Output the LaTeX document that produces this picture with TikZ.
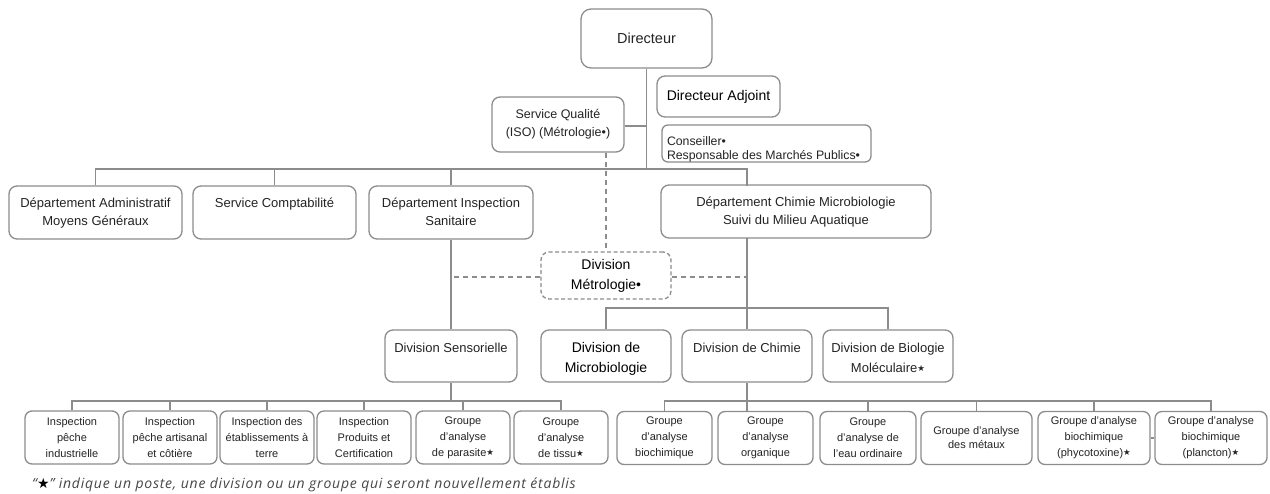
\documentclass[tikz,border=0pt]{standalone}
\usepackage{fontspec}
\setmainfont{Liberation Sans}
\newfontfamily\dejavu{DejaVu Sans}
\newfontfamily\notefont[LetterSpace=5.5]{Open Sans}
\usetikzlibrary{calc}
\definecolor{edge}{RGB}{140,140,140}
\definecolor{ink}{RGB}{35,35,35}
\definecolor{note}{RGB}{70,70,70}
\newcommand\fs[2]{\fontsize{#1}{#2}\selectfont}
% small star marking posts to be created
\newcommand\etoile{{\dejavu\fontsize{8.5}{8.5}\selectfont\raisebox{1pt}{★}}}
% box content hung from the top: width, height, first baseline, text
\newcommand\topbox[4]{\parbox[c][#2][t]{#1}{\centering\rule{0pt}{#3}#4}}
\begin{document}
\begin{tikzpicture}[x=1pt,y=-1pt,
  box/.style={draw=edge, line width=1.3pt, rounded corners=8pt, inner sep=0pt, text=ink},
  grp/.style={box, rounded corners=7pt, minimum width=#1, minimum height=53pt,
              align=center, font=\fs{11}{16}},
  conn/.style={draw=edge, line width=1.8pt},
  dashconn/.style={draw=edge, line width=1.5pt, dash pattern=on 5pt off 4pt},
]
\useasboundingbox (0,0) rectangle (1270,493);

% ---- top management
\node[box, rounded corners=10pt, minimum width=131pt, minimum height=59pt, font=\fs{14.5}{17}]
  (dir) at (646.5,38.5) {Directeur};
\node[box, minimum width=123pt, minimum height=41pt, font=\fs{14}{17}, text=black]
  (adj) at (718.5,96.5) {Directeur Adjoint};
\node[box, minimum width=132pt, minimum height=55pt, align=center, font=\fs{12.5}{18}]
  (qual) at (558,124.5) {Service Qualité\\(ISO) (Métrologie•)};
\node[box, rounded corners=6pt, font=\fs{12.3}{14.3}]
  (cons) at (766.5,143.5) {\parbox[c][37pt][t]{209pt}{\raggedright\hspace*{5pt}\rule{0pt}{20pt}Conseiller•\\\hspace*{5pt}Responsable des Marchés Publics•}};

% ---- departments
\node[box, font=\fs{13}{18}] (admin) at (95.5,212.5)
  {\topbox{173pt}{53pt}{21pt}{Département Administratif\\Moyens Généraux}};
\node[box, font=\fs{13}{18}] (compta) at (274.5,212.5)
  {\topbox{163pt}{53pt}{21pt}{Service Comptabilité}};
\node[box, font=\fs{13}{18}] (insp) at (451,212.5)
  {\topbox{164pt}{53pt}{21pt}{Département Inspection\\Sanitaire}};
\node[box, font=\fs{13}{18}] (chimie) at (796,211.5)
  {\topbox{270pt}{53pt}{21pt}{Département Chimie Microbiologie\\Suivi du Milieu Aquatique}};

% ---- divisions
\node[box, dashed, dash pattern=on 4pt off 2.5pt, minimum width=130pt, minimum height=47pt,
      align=center, font=\fs{14}{20}, text=black]
  (metro) at (606,275.5) {Division\\Métrologie•};
\node[box, font=\fs{13}{20}] (sens) at (451,356)
  {\topbox{132pt}{52pt}{22pt}{Division Sensorielle}};
\node[box, font=\fs{14}{20}, text=black] (micro) at (606,356)
  {\topbox{130pt}{52pt}{22pt}{Division de\\Microbiologie}};
\node[box, font=\fs{13}{20}] (chim) at (747,356)
  {\topbox{130pt}{52pt}{22pt}{Division de Chimie}};
\node[box, font=\fs{13}{20}] (bio) at (888,356)
  {\topbox{130pt}{52pt}{22pt}{Division de Biologie\\Moléculaire\etoile}};

% ---- groups
\node[grp=94pt]  (b1)  at (72,437.5)     {Inspection\\pêche\\industrielle};
\node[grp=94pt]  (b2)  at (170,437.5)    {Inspection\\pêche artisanal\\et côtière};
\node[grp=94pt]  (b3)  at (267,437.5)    {Inspection des\\établissements à\\terre};
\node[grp=94pt]  (b4)  at (364,437.5)    {Inspection\\Produits et\\Certification};
\node[grp=94pt]  (b5)  at (463,437.5)    {Groupe\\d’analyse\\de parasite\etoile};
\node[grp=94pt]  (b6)  at (561,437.5)    {Groupe\\d’analyse\\de tissu\etoile};
\node[grp=95pt]  (b7)  at (664.5,438)    {Groupe\\d’analyse\\biochimique};
\node[grp=95pt]  (b8)  at (765.5,438)    {Groupe\\d’analyse\\organique};
\node[grp=96pt]  (b9)  at (868,438)      {Groupe\\d’analyse de\\l’eau ordinaire};
\node[grp=111pt, font=\fs{11}{14}] (b10) at (976.5,438) {Groupe d’analyse\\des métaux};
\node[grp=112pt] (b11) at (1094,438)     {Groupe d’analyse\\biochimique\\(phycotoxine)\etoile};
\node[grp=112pt] (b12) at (1211,438)     {Groupe d’analyse\\biochimique\\(plancton)\etoile};

% ---- bus levels and drop points
\coordinate (bus) at (0,169);
\coordinate (divbus) at (0,308);
\coordinate (lowbus) at (0,401);
\coordinate (chimtop) at (747,186);
\coordinate (chimbot) at (747,238);

% ---- connectors
\draw[conn] (dir.south) -- (dir.south |- bus);
\draw[conn] (qual.east |- 0,126) -- (dir.south |- 0,126);
\draw[conn] (admin.north) -- (admin.north |- bus) -- (chimtop |- bus) -- (chimtop);
\draw[conn] (compta.north) -- (compta.north |- bus);
\draw[conn] (insp.north) -- (insp.north |- bus);
\draw[conn] (insp.south) -- (sens.north);
\draw[conn] (chimbot) -- (chimbot |- divbus);
\draw[conn] (micro.north) -- (micro.north |- divbus) -- (bio.north |- divbus) -- (bio.north);
\draw[conn] (chim.north) -- (chim.north |- divbus);
\draw[conn] (sens.south) -- (sens.south |- lowbus);
\draw[conn] (b1.north) -- (b1.north |- lowbus) -- (b6.north |- lowbus) -- (b6.north);
\foreach \g in {b2,b3,b4,b5} \draw[conn] (\g.north) -- (\g.north |- lowbus);
\draw[conn] (chim.south) -- (chim.south |- b8.north);
\draw[conn] (b7.north) -- (b7.north |- lowbus) -- (b12.north |- lowbus) -- (b12.north);
\foreach \g in {b9,b10,b11} \draw[conn] (\g.north) -- (\g.north |- lowbus);
\draw[conn] (b11.east) -- (b12.west);

% ---- dotted links of the metrology division
\draw[dashconn] (metro.north |- qual.south) -- (metro.north);
\draw[dashconn] (metro.west |- 0,277) -- (insp.south |- 0,277);
\draw[dashconn] (metro.east |- 0,277) -- (chimbot |- 0,277);

% ---- footnote
\node[anchor=west, inner sep=0pt, text=note, font=\notefont\itshape\fs{14}{16}]
  (note) at (32,485) {“{\dejavu\bfseries\color{black}★}” indique un poste, une division ou un groupe qui seront nouvellement établis};
\end{tikzpicture}
\end{document}
